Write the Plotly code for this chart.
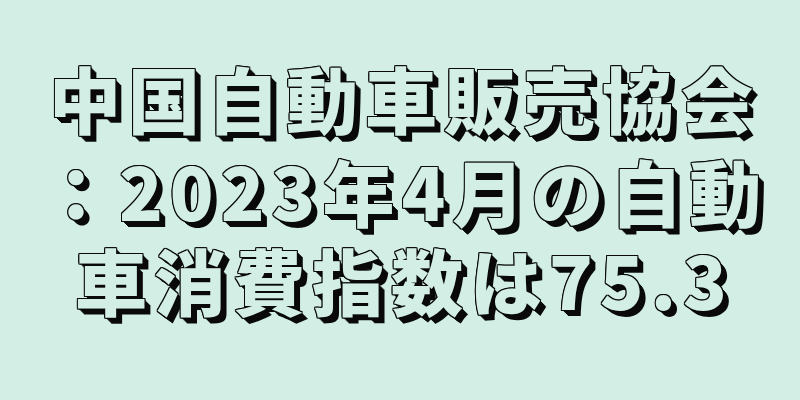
import plotly.graph_objects as go

# title card text, one entry per line
lines = ["中国自動車販売協会", "：2023年4月の自動", "車消費指数は75.3"]
line_y = [96, 189, 278]

bg = "rgb(211,239,229)"
ink = "#0a0a0a"

# thin dark outline, then extrusion down-right
ring1 = [(dx, dy) for dx in (-1, 0, 1) for dy in (-1, 0, 1) if (dx, dy) != (0, 0)]
outline = ["%dpx %dpx 0 %s" % (dx, dy, ink) for dx, dy in ring1]
depth = ["%dpx %dpx 0 %s" % (i, i, ink) for i in range(2, 7)]
shadow = ", ".join(outline + depth)

fig = go.Figure()
for txt, y in zip(lines, line_y):
    fig.add_annotation(
        x=404, y=y, xref="x", yref="y",
        text='<span style="letter-spacing:7px">%s</span>' % txt,
        showarrow=False,
        xanchor="center", yanchor="middle",
        font=dict(family="Noto Sans CJK JP Black, Noto Sans CJK JP", size=72,
                  color=bg, weight=900, shadow=shadow),
    )

fig.update_xaxes(range=[0, 800], visible=False)
fig.update_yaxes(range=[400, 0], visible=False)
fig.update_layout(
    width=800, height=400,
    margin=dict(l=0, r=0, t=0, b=0),
    paper_bgcolor=bg, plot_bgcolor=bg,
    showlegend=False,
)

fig.write_html(
    "out.html",
    config={"displayModeBar": False},
    post_script="document.body.style.margin='0';document.body.style.overflow='hidden';"
                "document.body.style.background='%s';" % bg,
)
